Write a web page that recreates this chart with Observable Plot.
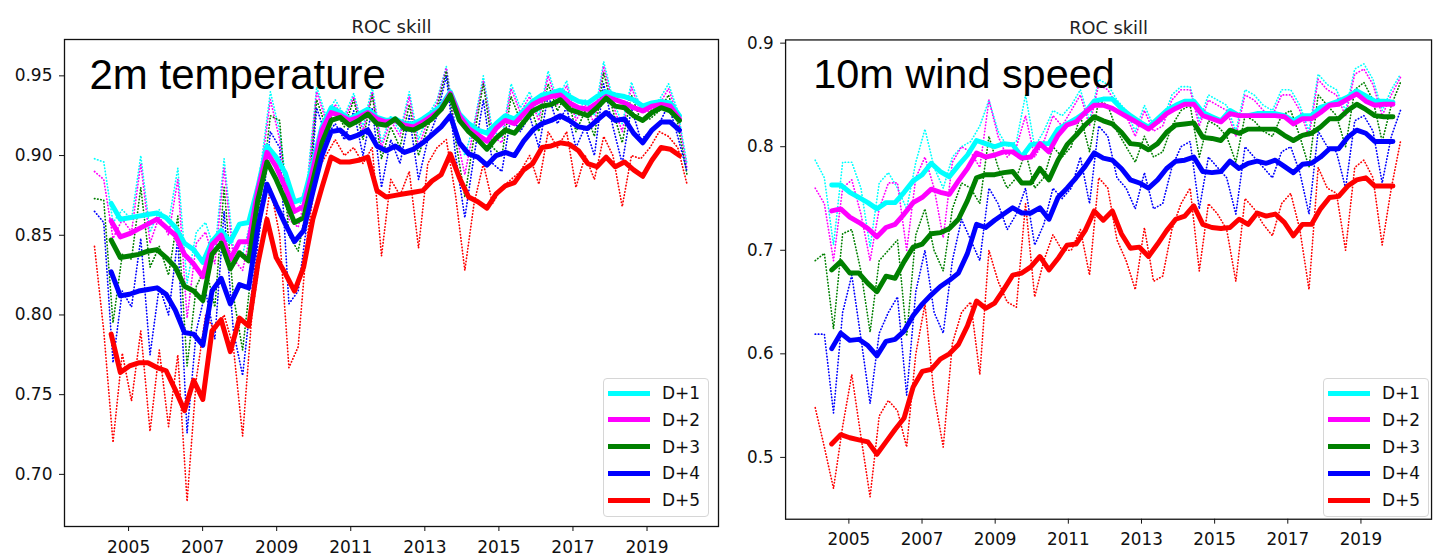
<!DOCTYPE html>
<html><head><meta charset="utf-8">
<script src="https://cdn.jsdelivr.net/npm/d3@7"></script>
<script src="https://cdn.jsdelivr.net/npm/@observablehq/plot@0.6"></script>
<style>
html,body{margin:0;padding:0;background:#fff;overflow:hidden;}
#wrap{position:relative;width:1435px;height:558px;overflow:hidden;font-family:"DejaVu Sans",sans-serif;}
.panel{position:absolute;top:0;height:558px;overflow:hidden;}
.legend{position:absolute;border:1px solid #d6d6d6;border-radius:4px;background:rgba(255,255,255,0.85);box-sizing:border-box;}
.sw{position:absolute;left:4px;width:42px;height:5px;}
.lab{position:absolute;left:58px;font-size:17px;line-height:20px;color:#111;font-family:"DejaVu Sans",sans-serif;}
</style></head><body><div id="wrap"></div>
<script>
// ---- categories / ticks ----
const leads = ["D+1", "D+2", "D+3", "D+4", "D+5"];
const leadColors = ["#00ffff", "#ff00ff", "#008000", "#0000ff", "#ff0000"];
const xTicks = [2005, 2007, 2009, 2011, 2013, 2015, 2017, 2019];
const t2mYTicks = [0.70, 0.75, 0.80, 0.85, 0.90, 0.95];
const ws10YTicks = [0.5, 0.6, 0.7, 0.8, 0.9];
// time axes: running mean (thick) and quarterly values (dotted)
const tThick = d3.range(63).map(i => 2004.53 + 0.2475 * i);
const tDot = d3.range(65).map(k => 2004.08 + 0.25 * k);

// ---- 2m temperature, running mean ----
const t2mThick1 = [0.870,0.860,0.861,0.862,0.863,0.864,0.861,0.855,0.845,0.841,0.833,0.846,0.853,0.846,0.857,0.858,0.880,0.906,0.899,0.889,0.871,0.873,0.895,0.918,0.930,0.927,0.923,0.926,0.929,0.924,0.922,0.923,0.920,0.920,0.923,0.927,0.931,0.940,0.926,0.920,0.916,0.914,0.920,0.925,0.923,0.928,0.934,0.938,0.939,0.941,0.937,0.934,0.933,0.937,0.940,0.938,0.937,0.935,0.931,0.933,0.934,0.933,0.925];
const t2mThick2 = [0.859,0.849,0.851,0.854,0.857,0.860,0.855,0.850,0.838,0.832,0.824,0.844,0.850,0.835,0.846,0.846,0.878,0.902,0.893,0.880,0.865,0.868,0.891,0.916,0.927,0.925,0.922,0.924,0.927,0.923,0.921,0.922,0.919,0.918,0.921,0.925,0.929,0.939,0.925,0.917,0.913,0.909,0.917,0.922,0.920,0.926,0.932,0.935,0.937,0.938,0.933,0.930,0.929,0.933,0.937,0.935,0.933,0.930,0.928,0.931,0.932,0.931,0.923];
const t2mThick3 = [0.847,0.836,0.837,0.838,0.840,0.841,0.836,0.830,0.818,0.815,0.809,0.838,0.845,0.829,0.839,0.834,0.872,0.896,0.885,0.872,0.858,0.861,0.884,0.908,0.922,0.924,0.919,0.922,0.926,0.920,0.919,0.923,0.917,0.916,0.919,0.923,0.929,0.938,0.922,0.915,0.910,0.904,0.911,0.916,0.914,0.921,0.928,0.931,0.932,0.935,0.929,0.927,0.925,0.930,0.936,0.931,0.930,0.925,0.922,0.927,0.930,0.928,0.922];
const t2mThick4 = [0.827,0.812,0.813,0.815,0.816,0.817,0.813,0.803,0.789,0.788,0.781,0.815,0.823,0.807,0.819,0.817,0.855,0.882,0.869,0.857,0.846,0.853,0.877,0.900,0.915,0.916,0.911,0.913,0.916,0.906,0.903,0.906,0.902,0.904,0.908,0.913,0.918,0.925,0.908,0.901,0.899,0.894,0.900,0.902,0.900,0.909,0.916,0.920,0.922,0.925,0.922,0.918,0.917,0.922,0.927,0.922,0.923,0.914,0.908,0.916,0.921,0.921,0.916];
const t2mThick5 = [0.788,0.764,0.768,0.770,0.770,0.767,0.765,0.753,0.740,0.759,0.747,0.790,0.797,0.777,0.798,0.793,0.832,0.860,0.836,0.826,0.815,0.830,0.860,0.880,0.899,0.896,0.896,0.897,0.899,0.878,0.874,0.875,0.876,0.877,0.878,0.884,0.888,0.901,0.886,0.874,0.871,0.867,0.876,0.881,0.883,0.891,0.895,0.905,0.906,0.908,0.907,0.903,0.895,0.893,0.899,0.893,0.896,0.891,0.887,0.897,0.905,0.904,0.900];
// ---- 2m temperature, quarterly ----
const t2mDot1 = [0.898,0.896,0.858,0.866,0.860,0.900,0.852,0.866,0.858,0.892,0.820,0.852,0.858,0.840,0.898,0.842,0.838,0.862,0.895,0.940,0.915,0.870,0.865,0.885,0.943,0.925,0.935,0.925,0.939,0.918,0.943,0.908,0.925,0.915,0.940,0.910,0.925,0.935,0.956,0.918,0.900,0.920,0.950,0.915,0.912,0.945,0.930,0.940,0.925,0.953,0.935,0.947,0.925,0.935,0.925,0.959,0.935,0.920,0.946,0.930,0.932,0.935,0.945,0.928,0.895];
const t2mDot2 = [0.890,0.885,0.848,0.860,0.852,0.895,0.845,0.862,0.850,0.885,0.798,0.845,0.852,0.832,0.892,0.835,0.828,0.855,0.890,0.935,0.910,0.860,0.855,0.880,0.940,0.922,0.932,0.922,0.937,0.915,0.940,0.905,0.922,0.912,0.937,0.905,0.922,0.933,0.955,0.915,0.888,0.918,0.947,0.912,0.908,0.942,0.927,0.937,0.922,0.950,0.932,0.944,0.922,0.932,0.920,0.956,0.932,0.915,0.943,0.927,0.928,0.932,0.942,0.925,0.892];
const t2mDot3 = [0.873,0.872,0.795,0.838,0.835,0.880,0.830,0.843,0.825,0.862,0.768,0.818,0.830,0.805,0.880,0.812,0.778,0.830,0.875,0.925,0.922,0.850,0.840,0.870,0.935,0.918,0.928,0.918,0.935,0.910,0.938,0.898,0.918,0.905,0.932,0.900,0.918,0.930,0.953,0.910,0.874,0.912,0.945,0.905,0.900,0.937,0.922,0.932,0.915,0.945,0.928,0.940,0.915,0.928,0.912,0.952,0.928,0.908,0.938,0.922,0.923,0.928,0.938,0.920,0.888];
const t2mDot4 = [0.865,0.858,0.770,0.815,0.805,0.848,0.775,0.818,0.800,0.848,0.726,0.790,0.815,0.785,0.865,0.790,0.762,0.815,0.860,0.915,0.905,0.807,0.815,0.860,0.930,0.912,0.920,0.910,0.928,0.900,0.930,0.880,0.910,0.895,0.925,0.885,0.910,0.925,0.950,0.900,0.861,0.900,0.935,0.895,0.890,0.925,0.915,0.925,0.905,0.938,0.920,0.930,0.905,0.918,0.900,0.945,0.918,0.895,0.930,0.910,0.915,0.920,0.932,0.912,0.890];
const t2mDot5 = [0.843,0.790,0.720,0.776,0.746,0.790,0.727,0.778,0.730,0.775,0.683,0.760,0.800,0.790,0.800,0.780,0.724,0.800,0.840,0.880,0.850,0.767,0.780,0.850,0.890,0.900,0.910,0.900,0.905,0.895,0.905,0.837,0.885,0.875,0.890,0.842,0.895,0.905,0.910,0.875,0.828,0.870,0.895,0.870,0.880,0.885,0.890,0.900,0.882,0.915,0.905,0.915,0.880,0.900,0.885,0.912,0.900,0.868,0.900,0.898,0.905,0.915,0.912,0.905,0.882];

// ---- 10m wind speed, running mean ----
const ws10Thick1 = [0.763,0.763,0.756,0.751,0.746,0.740,0.746,0.746,0.756,0.767,0.773,0.784,0.776,0.771,0.782,0.792,0.806,0.803,0.800,0.803,0.802,0.790,0.802,0.803,0.803,0.817,0.822,0.827,0.833,0.844,0.846,0.846,0.837,0.830,0.824,0.819,0.827,0.835,0.840,0.844,0.844,0.833,0.829,0.825,0.835,0.830,0.830,0.832,0.832,0.832,0.830,0.825,0.830,0.830,0.838,0.841,0.844,0.848,0.854,0.849,0.844,0.844,0.843];
const ws10Thick2 = [0.738,0.740,0.732,0.727,0.721,0.713,0.722,0.725,0.735,0.746,0.751,0.759,0.756,0.754,0.767,0.779,0.794,0.790,0.792,0.795,0.795,0.789,0.790,0.803,0.795,0.811,0.821,0.824,0.833,0.840,0.840,0.837,0.832,0.827,0.822,0.817,0.824,0.832,0.837,0.841,0.841,0.830,0.827,0.824,0.832,0.830,0.830,0.830,0.830,0.830,0.829,0.822,0.827,0.827,0.833,0.840,0.841,0.846,0.851,0.844,0.840,0.841,0.841];
const ws10Thick3 = [0.681,0.689,0.678,0.678,0.668,0.660,0.675,0.673,0.689,0.703,0.706,0.716,0.717,0.721,0.730,0.748,0.770,0.773,0.773,0.775,0.776,0.765,0.765,0.779,0.768,0.787,0.802,0.811,0.821,0.829,0.825,0.822,0.814,0.803,0.802,0.797,0.803,0.814,0.821,0.822,0.823,0.809,0.808,0.806,0.816,0.813,0.817,0.817,0.817,0.817,0.811,0.806,0.811,0.813,0.819,0.827,0.827,0.835,0.841,0.836,0.830,0.829,0.829];
const ws10Thick4 = [0.605,0.620,0.613,0.614,0.608,0.598,0.612,0.614,0.622,0.637,0.648,0.657,0.665,0.671,0.678,0.697,0.725,0.722,0.729,0.735,0.741,0.736,0.736,0.741,0.730,0.751,0.760,0.770,0.781,0.794,0.789,0.787,0.779,0.768,0.765,0.760,0.768,0.779,0.786,0.787,0.790,0.776,0.775,0.776,0.786,0.779,0.784,0.786,0.784,0.787,0.781,0.775,0.783,0.784,0.790,0.798,0.798,0.809,0.816,0.813,0.805,0.805,0.805];
const ws10Thick5 = [0.513,0.522,0.519,0.517,0.515,0.503,0.515,0.527,0.538,0.568,0.583,0.585,0.595,0.600,0.609,0.627,0.651,0.644,0.649,0.662,0.676,0.678,0.684,0.694,0.681,0.692,0.705,0.706,0.719,0.738,0.729,0.738,0.716,0.702,0.703,0.694,0.706,0.719,0.730,0.733,0.743,0.725,0.722,0.721,0.722,0.730,0.725,0.736,0.733,0.735,0.727,0.714,0.725,0.725,0.740,0.751,0.752,0.762,0.768,0.770,0.762,0.762,0.762];
// ---- 10m wind speed, quarterly ----
const ws10Dot1 = [0.787,0.770,0.705,0.785,0.785,0.760,0.703,0.765,0.775,0.760,0.740,0.785,0.817,0.780,0.760,0.790,0.800,0.805,0.820,0.845,0.815,0.800,0.805,0.850,0.800,0.815,0.835,0.830,0.840,0.855,0.825,0.865,0.860,0.845,0.835,0.815,0.840,0.820,0.825,0.850,0.858,0.858,0.825,0.850,0.845,0.840,0.815,0.855,0.850,0.840,0.835,0.855,0.855,0.840,0.815,0.870,0.860,0.855,0.835,0.875,0.880,0.865,0.835,0.855,0.870];
const ws10Dot2 = [0.760,0.745,0.690,0.760,0.768,0.735,0.690,0.740,0.765,0.765,0.700,0.770,0.790,0.760,0.712,0.785,0.800,0.795,0.780,0.845,0.810,0.790,0.800,0.830,0.790,0.805,0.830,0.820,0.835,0.850,0.820,0.860,0.855,0.840,0.830,0.810,0.835,0.815,0.820,0.845,0.855,0.855,0.820,0.845,0.840,0.835,0.810,0.850,0.845,0.835,0.830,0.850,0.850,0.835,0.810,0.865,0.855,0.850,0.830,0.870,0.875,0.860,0.830,0.850,0.867];
const ws10Dot3 = [0.690,0.697,0.624,0.716,0.720,0.680,0.621,0.690,0.700,0.710,0.617,0.715,0.740,0.700,0.680,0.740,0.765,0.760,0.745,0.810,0.780,0.760,0.770,0.795,0.760,0.770,0.800,0.790,0.800,0.830,0.795,0.845,0.840,0.815,0.800,0.785,0.810,0.790,0.795,0.820,0.835,0.840,0.790,0.825,0.820,0.810,0.785,0.830,0.825,0.815,0.810,0.830,0.835,0.810,0.780,0.850,0.840,0.830,0.800,0.855,0.862,0.845,0.805,0.840,0.862];
const ws10Dot4 = [0.619,0.619,0.543,0.640,0.676,0.615,0.552,0.620,0.640,0.655,0.560,0.660,0.700,0.640,0.620,0.690,0.730,0.710,0.690,0.760,0.745,0.720,0.735,0.760,0.705,0.725,0.760,0.750,0.760,0.790,0.745,0.820,0.810,0.770,0.760,0.740,0.775,0.740,0.745,0.780,0.800,0.805,0.740,0.790,0.780,0.770,0.735,0.800,0.790,0.780,0.770,0.795,0.800,0.775,0.735,0.815,0.800,0.795,0.760,0.825,0.830,0.815,0.765,0.810,0.835];
const ws10Dot5 = [0.548,0.510,0.470,0.530,0.580,0.520,0.462,0.540,0.555,0.545,0.510,0.600,0.648,0.560,0.510,0.610,0.640,0.650,0.580,0.700,0.670,0.650,0.645,0.745,0.655,0.690,0.715,0.700,0.700,0.720,0.676,0.770,0.760,0.710,0.690,0.662,0.722,0.670,0.675,0.720,0.745,0.760,0.680,0.745,0.735,0.720,0.670,0.750,0.740,0.725,0.714,0.745,0.755,0.720,0.662,0.780,0.760,0.755,0.700,0.780,0.787,0.770,0.705,0.760,0.805];

function rows(series, times) {
  const out = [];
  series.forEach((arr, s) => arr.forEach((v, i) => { if (i < times.length) out.push({t: times[i], v, lead: leads[s]}); }));
  return out;
}

function makePanel(cfg) {
  const thick = rows(cfg.thick, tThick);
  const dots = rows(cfg.dots, tDot);
  return Plot.plot({
    width: cfg.width, height: 558,
    marginLeft: cfg.ml, marginRight: cfg.mr, marginTop: cfg.mt, marginBottom: 32,
    style: {fontFamily: "DejaVu Sans, sans-serif", fontSize: "17px", color: "#111", background: "transparent", overflow: "visible"},
    x: {domain: [2003.27, 2020.93], ticks: xTicks, tickFormat: "d", tickSize: 5, tickPadding: 9, label: null},
    y: {domain: cfg.yDomain, ticks: cfg.yTicks, tickFormat: cfg.yFmt, tickSize: 5, tickPadding: 7, label: null},
    color: {domain: leads, range: leadColors},
    marks: [
      Plot.line(dots, {x: "t", y: "v", z: "lead", stroke: "lead", strokeWidth: 1.7, strokeDasharray: "0.4,2.8", strokeLinecap: "round"}),
      Plot.line(thick, {x: "t", y: "v", z: "lead", stroke: "lead", strokeWidth: 5, strokeLinejoin: "round"}),
      Plot.frame({stroke: "#111", strokeWidth: 1.3}),
      Plot.text(["ROC skill"], {frameAnchor: "top", dy: -19, fontSize: 18, fill: "#222"}),
      Plot.text([cfg.label], {frameAnchor: "top-left", dx: cfg.ldx, dy: 49, textAnchor: "start", lineAnchor: "bottom", fontSize: 42, fontFamily: "Liberation Sans, Arial, sans-serif", fill: "#000"})
    ]
  });
}

function legend(left) {
  const box = document.createElement("div");
  box.className = "legend";
  Object.assign(box.style, {left: left + "px", top: "378px", width: "106px", height: "139px"});
  leads.forEach((name, i) => {
    const cy = 14 + i * 26.8;
    const sw = document.createElement("div");
    sw.className = "sw";
    Object.assign(sw.style, {top: (cy - 2.5) + "px", background: leadColors[i]});
    const lb = document.createElement("div");
    lb.className = "lab";
    lb.style.top = (cy - 10) + "px";
    lb.textContent = name;
    box.appendChild(sw); box.appendChild(lb);
  });
  return box;
}

const wrap = document.getElementById("wrap");
const p1 = document.createElement("div"); p1.className = "panel";
Object.assign(p1.style, {left: "0px", width: "725px"});
p1.appendChild(makePanel({
  width: 725, ml: 64, mr: 7, mt: 39, ldx: 25, label: "2m temperature",
  yDomain: [0.6673, 0.9728], yTicks: t2mYTicks, yFmt: ".2f",
  thick: [t2mThick1, t2mThick2, t2mThick3, t2mThick4, t2mThick5],
  dots: [t2mDot1, t2mDot2, t2mDot3, t2mDot4, t2mDot5]
}));
const p2 = document.createElement("div"); p2.className = "panel";
Object.assign(p2.style, {left: "720px", width: "715px"});
p2.appendChild(makePanel({
  width: 725, ml: 66, mr: 4, mt: 40, ldx: 28, label: "10m wind speed",
  yDomain: [0.4403, 0.9031], yTicks: ws10YTicks, yFmt: ".1f",
  thick: [ws10Thick1, ws10Thick2, ws10Thick3, ws10Thick4, ws10Thick5],
  dots: [ws10Dot1, ws10Dot2, ws10Dot3, ws10Dot4, ws10Dot5]
}));
wrap.appendChild(p1); wrap.appendChild(p2);
wrap.appendChild(legend(603));
wrap.appendChild(legend(1323));
</script></body></html>
